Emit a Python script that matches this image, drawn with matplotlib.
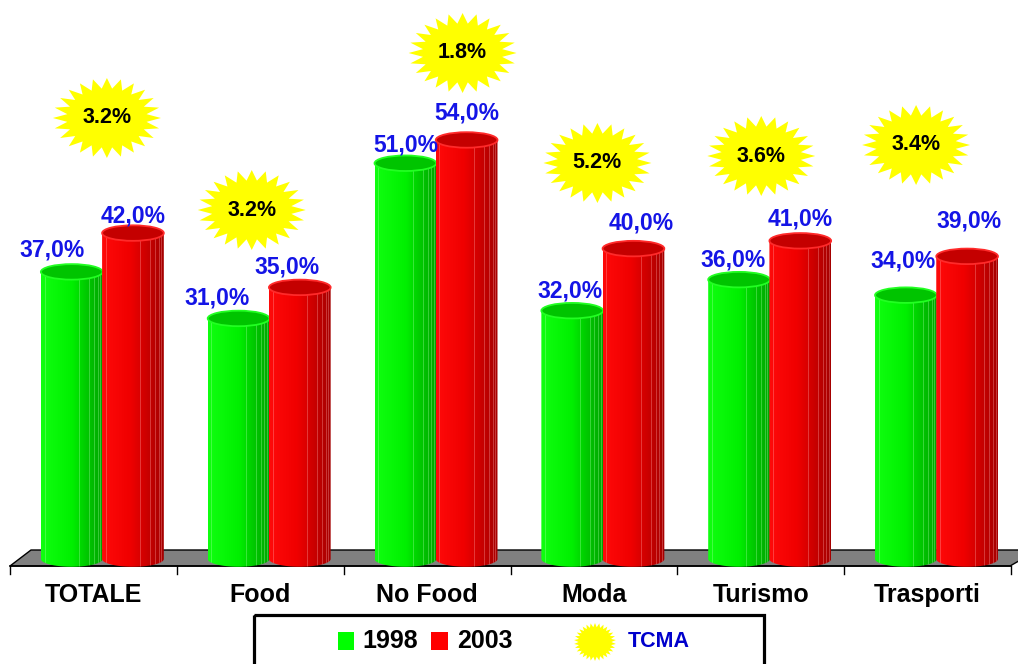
import numpy as np
import matplotlib.pyplot as plt
from matplotlib.patches import Polygon, Ellipse, Rectangle
from matplotlib.colors import LinearSegmentedColormap

plt.rcParams['font.family'] = ['Liberation Sans', 'DejaVu Sans']
plt.rcParams['font.weight'] = 'bold'

# Quota per settore, 1998 vs 2003, e tasso di crescita medio annuo
categories = ['TOTALE', 'Food', 'No Food', 'Moda', 'Turismo', 'Trasporti']
share_1998 = [37.0, 31.0, 51.0, 32.0, 36.0, 34.0]
share_2003 = [42.0, 35.0, 54.0, 40.0, 41.0, 39.0]
tcma = [3.2, 3.2, 1.8, 5.2, 3.6, 3.4]
years = ['1998', '2003']

# canvas geometry in pixels
W, H = 1018, 664
PX_X = 1001 / 6      # pixels per category
PX_Y = 7.76          # pixels per percentage point
Y0 = 559             # pixel row of the 0% level
X0 = 10              # pixel column of the left axis end

# label nudges (px) relative to bar centre / bar top
green_lbl = [(-20, -22), (-22, -20), (0, -18), (-2, -20), (-6, -20), (-3, -34)]
red_lbl = [(0, -17), (-13, -20), (0, -27), (8, -26), (0, -22), (2, -35)]
# starburst placement: x offset from category centre (px), absolute row (px)
star_dx = [13.5, -8.5, 35.5, 3.5, 0.5, -11.5]
star_row = [118, 210, 53, 163, 156, 145]

BAR_W = 0.37
GREEN_X = -0.13
RED_X = 0.237
ELL_H = 2.0

green_cmap = LinearSegmentedColormap.from_list(
    'g', [(0, '#10ff10'), (0.5, '#00f000'), (0.72, '#00cc00'), (1, '#00a400')])
red_cmap = LinearSegmentedColormap.from_list(
    'r', [(0, '#ff0a0a'), (0.45, '#f00000'), (0.72, '#cc0000'), (1, '#a40000')])


def py2d(py):
    return (Y0 - py) / PX_Y


def px2d(px):
    return (px - X0) / PX_X - 0.5


def star(cx, cy, rx, ry, n=24, inner=0.74):
    ang = np.linspace(0, 2 * np.pi, 2 * n, endpoint=False) + np.pi / 2
    r = np.where(np.arange(2 * n) % 2 == 0, 1.0, inner)
    return np.column_stack([cx + rx * r * np.cos(ang), cy + ry * r * np.sin(ang)])


def cylinder(ax, xc, v, cmap, top_face, rim, stripe, z):
    w = BAR_W
    x0, x1 = xc - w / 2, xc + w / 2
    t = np.linspace(np.pi, 2 * np.pi, 80)
    bottom = np.column_stack([xc + w / 2 * np.cos(t), ELL_H / 2 * np.sin(t)])
    t2 = np.linspace(0, np.pi, 80)
    top = np.column_stack([xc + w / 2 * np.cos(t2), v + ELL_H / 2 * np.sin(t2)])
    body = Polygon(np.vstack([bottom, top]), closed=True, facecolor='none',
                   edgecolor='none', zorder=z)
    ax.add_patch(body)
    grad = np.linspace(0, 1, 256).reshape(1, -1)
    im = ax.imshow(grad, extent=(x0, x1, -ELL_H, v + ELL_H), aspect='auto',
                   cmap=cmap, origin='lower', interpolation='bilinear', zorder=z)
    im.set_clip_path(body)
    for f in [0.06, 0.62, 0.78, 0.86, 0.92, 0.96]:
        ln, = ax.plot([x0 + f * w] * 2, [-ELL_H, v], color=stripe, lw=0.6,
                      alpha=0.4, zorder=z + 0.1)
        ln.set_clip_path(body)
    ax.add_patch(Ellipse((xc, v), w, ELL_H, facecolor=top_face, edgecolor=rim,
                         lw=1.3, zorder=z + 0.2))


fig = plt.figure(figsize=(W / 100, H / 100), dpi=100)
ax = fig.add_axes([0, 0, 1, 1])
ax.set_xlim(px2d(0), px2d(W))
ax.set_ylim(py2d(H), py2d(0))
ax.axis('off')

# floor
floor = [(px2d(31), py2d(550)), (px2d(W + 20), py2d(550)),
         (px2d(1010), py2d(566)), (px2d(10), py2d(566))]
ax.add_patch(Polygon(floor, closed=True, facecolor='#808080',
                     edgecolor='black', lw=1.0, zorder=1))
ax.plot([px2d(10), px2d(1011)], [py2d(566), py2d(566)], color='black', lw=1.2, zorder=1.5)
for k in range(len(categories) + 1):
    ax.plot([k - 0.5, k - 0.5], [py2d(566), py2d(574)], color='black', lw=1.0, zorder=1.5)

for i, cat in enumerate(categories):
    z = 3 + i * 2
    cylinder(ax, i + GREEN_X, share_1998[i], green_cmap, '#00c400', '#22ff22', '#a8ffa8', z)
    cylinder(ax, i + RED_X, share_2003[i], red_cmap, '#c40000', '#ff2a2a', '#ffa8a8', z + 1)

    dx, dy = green_lbl[i]
    ax.text(i + GREEN_X + dx / PX_X, share_1998[i] - dy / PX_Y,
            f'{share_1998[i]:.1f}%'.replace('.', ','), ha='center', va='center',
            fontsize=16.5, color='#1414e6', zorder=30)
    dx, dy = red_lbl[i]
    ax.text(i + RED_X + dx / PX_X, share_2003[i] - dy / PX_Y,
            f'{share_2003[i]:.1f}%'.replace('.', ','), ha='center', va='center',
            fontsize=16.5, color='#1414e6', zorder=30)

    ax.text(i, py2d(595), cat, ha='center', va='center', fontsize=18, color='black')

    # TCMA starburst
    cx = i + star_dx[i] / PX_X
    cy = py2d(star_row[i])
    ax.add_patch(Polygon(star(cx, cy, 54 / PX_X, 40 / PX_Y), closed=True,
                         facecolor='#ffff00', edgecolor='none', zorder=25))
    ax.text(cx, cy, f'{tcma[i]:.1f}%', ha='center', va='center', fontsize=15.5,
            color='black', zorder=26)

# legend in pixel coordinates
lg = fig.add_axes([0, 0, 1, 1])
lg.set_xlim(0, W)
lg.set_ylim(H, 0)
lg.axis('off')
lg.patch.set_alpha(0)
lg.add_patch(Rectangle((254, 614.5), 510, 70, fill=False, edgecolor='black', lw=2.3))
lg.add_patch(Rectangle((338, 632), 16, 18, facecolor='#00ff00', edgecolor='none'))
lg.text(362, 641.5, years[0], ha='left', va='center', fontsize=18, color='black')
lg.add_patch(Rectangle((431, 632), 17, 18, facecolor='#ff0000', edgecolor='none'))
lg.text(457, 641.5, years[1], ha='left', va='center', fontsize=18, color='black')
lg.add_patch(Polygon(star(595, 642, 21, 19, n=30, inner=0.78), closed=True,
                     facecolor='#ffff00', edgecolor='none'))
lg.text(628, 641.5, 'TCMA', ha='left', va='center', fontsize=15.5, color='#0000cc')

fig.savefig('out.png', dpi=100)
